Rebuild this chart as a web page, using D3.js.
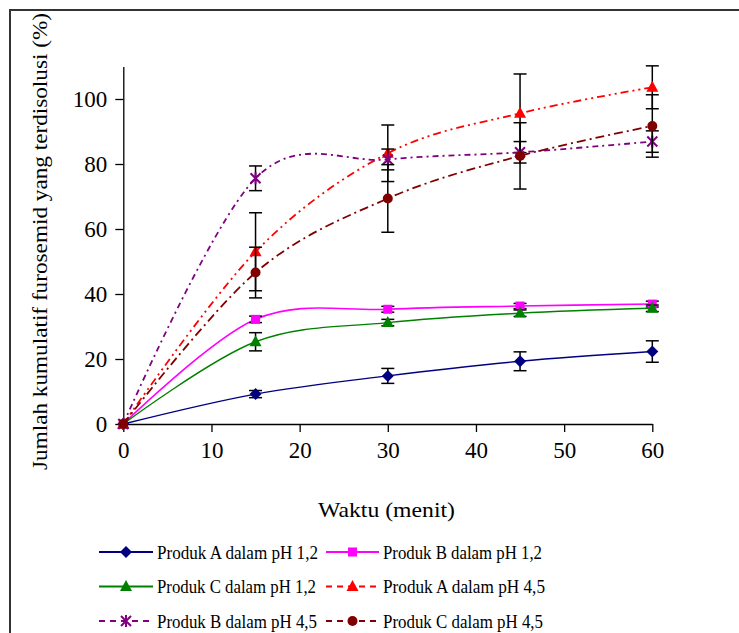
<!DOCTYPE html>
<html>
<head>
<meta charset="utf-8">
<script src="https://cdn.jsdelivr.net/npm/d3@7"></script>
<style>
  html, body { margin: 0; padding: 0; background: #fff; }
  svg { display: block; }
  svg text { font-family: "Liberation Serif", "Times New Roman", Times, "DejaVu Serif", "Noto Serif", serif !important; fill: #000; }
</style>
</head>
<body>
<svg id="chart" width="739" height="633"></svg>
<script>
// ---- Data ----
const times = [0, 15, 30, 45, 60];
const xTicks = [0, 10, 20, 30, 40, 50, 60];
const yTicks = [0, 20, 40, 60, 80, 100];

const seriesNames = [
  "Produk A dalam pH 1,2",
  "Produk B dalam pH 1,2",
  "Produk C dalam pH 1,2",
  "Produk A dalam pH 4,5",
  "Produk B dalam pH 4,5",
  "Produk C dalam pH 4,5"
];

const prodA_pH12 = [0, 9.2, 14.8, 19.3, 22.3];
const prodA_pH12_err = [0, 1.1, 2.3, 2.9, 3.3];
const prodB_pH12 = [0, 32.2, 35.3, 36.3, 36.9];
const prodB_pH12_err = [0, 1.0, 0.9, 0.8, 0.9];
const prodC_pH12 = [0, 25.3, 31.2, 34.1, 35.6];
const prodC_pH12_err = [0, 2.8, 1.0, 1.0, 1.0];
const prodA_pH45 = [0, 53.0, 83.3, 95.6, 103.6];
const prodA_pH45_err = [0, 12.0, 8.7, 12.1, 6.6];
const prodB_pH45 = [0, 75.6, 81.4, 83.6, 86.9];
const prodB_pH45_err = [0, 3.8, 3.2, 3.3, 3.3];
const prodC_pH45 = [0, 46.6, 69.4, 82.5, 91.7];
const prodC_pH45_err = [0, 7.8, 10.4, 10.2, 9.6];

const values = [prodA_pH12, prodB_pH12, prodC_pH12, prodA_pH45, prodB_pH45, prodC_pH45];
const errors = [prodA_pH12_err, prodB_pH12_err, prodC_pH12_err, prodA_pH45_err, prodB_pH45_err, prodC_pH45_err];

// ---- Styles ----
const FONT = '"Liberation Serif", "Times New Roman", Times, "DejaVu Serif", "Noto Serif", serif';
const colors = ["#000080", "#FF00FF", "#008000", "#FF0000", "#800080", "#800000"];
const markers = ["diamond", "square", "triangle", "triangle", "star", "circle"];
const dashes = [null, null, null, "8,4,2,4,2,4", "6,4,2,4", "9,4,2,4"];
const widths = [1.4, 1.6, 1.4, 1.8, 1.8, 1.8];

const svg = d3.select("#chart");

// frame
svg.append("rect")
  .attr("x", 10).attr("y", 10).attr("width", 740).attr("height", 640)
  .attr("fill", "none").attr("stroke", "#333").attr("stroke-width", 2);

const x = d3.scaleLinear().domain([0, 60]).range([123.3, 652.3]);
const y = d3.scaleLinear().domain([0, 110]).range([424, 66.5]);

// axes
const xAxisG = svg.append("g").attr("transform", `translate(0,${y(0)})`)
  .call(d3.axisBottom(x).tickValues(xTicks).tickSize(8).tickSizeOuter(0).tickPadding(10));
const yAxisG = svg.append("g").attr("transform", `translate(${x(0)},0)`)
  .call(d3.axisLeft(y).tickValues(yTicks).tickSize(8).tickSizeOuter(0).tickPadding(8));
[xAxisG, yAxisG].forEach(g => {
  g.attr("font-family", FONT).attr("font-size", 23);
  g.select(".domain").attr("stroke", "#000").attr("stroke-width", 1.3);
  g.selectAll(".tick line").attr("stroke", "#000").attr("stroke-width", 1.3);
  g.selectAll(".tick text").attr("fill", "#000");
});
xAxisG.selectAll(".tick text").attr("dy", "0.71em");
yAxisG.selectAll(".tick text").attr("dy", "0.34em");

// axis titles
svg.append("text")
  .attr("x", 318).attr("y", 517)
  .attr("font-family", FONT).attr("font-size", 22)
  .attr("textLength", 137).attr("lengthAdjust", "spacingAndGlyphs")
  .text("Waktu (menit)");
svg.append("text")
  .attr("transform", "translate(47,470) rotate(-90)")
  .attr("font-family", FONT).attr("font-size", 22)
  .attr("textLength", 457).attr("lengthAdjust", "spacingAndGlyphs")
  .text("Jumlah kumulatif furosemid yang terdisolusi (%)");

// marker drawing
function drawMarker(g, type, cx, cy, color) {
  if (type === "diamond") {
    const r = 6;
    g.append("path").attr("d", `M${cx},${cy - r}L${cx + r},${cy}L${cx},${cy + r}L${cx - r},${cy}Z`).attr("fill", color);
  } else if (type === "square") {
    const s = 9;
    g.append("rect").attr("x", cx - s / 2).attr("y", cy - s / 2).attr("width", s).attr("height", s).attr("fill", color);
  } else if (type === "triangle") {
    const h = 11, w = 12;
    g.append("path").attr("d", `M${cx},${cy - h * 0.6}L${cx + w / 2},${cy + h * 0.4}L${cx - w / 2},${cy + h * 0.4}Z`).attr("fill", color);
  } else if (type === "circle") {
    g.append("circle").attr("cx", cx).attr("cy", cy).attr("r", 5).attr("fill", color);
  } else if (type === "star") {
    const r = 5;
    g.append("path")
      .attr("d", `M${cx - r},${cy - r}L${cx + r},${cy + r}M${cx - r},${cy + r}L${cx + r},${cy - r}M${cx},${cy - r - 1}L${cx},${cy + r + 1}`)
      .attr("stroke", color).attr("stroke-width", 2).attr("fill", "none");
  }
}

const line = d3.line().x(d => x(d[0])).y(d => y(d[1])).curve(d3.curveCardinal.tension(0));

const plot = svg.append("g");
values.forEach((vals, i) => {
  const pts = times.map((t, j) => [t, vals[j]]);
  const g = plot.append("g");
  const p = g.append("path").datum(pts).attr("d", line)
    .attr("fill", "none").attr("stroke", colors[i]).attr("stroke-width", widths[i]);
  if (dashes[i]) p.attr("stroke-dasharray", dashes[i]);
  // error bars
  times.forEach((t, j) => {
    const e = errors[i][j];
    if (e <= 0) return;
    const cx = x(t), y1 = y(vals[j] + e), y2 = y(vals[j] - e);
    g.append("line").attr("x1", cx).attr("x2", cx).attr("y1", y1).attr("y2", y2)
      .attr("stroke", "#000").attr("stroke-width", 1.5);
    [y1, y2].forEach(yy => g.append("line").attr("x1", cx - 6.5).attr("x2", cx + 6.5)
      .attr("y1", yy).attr("y2", yy).attr("stroke", "#000").attr("stroke-width", 1.5));
  });
  times.forEach((t, j) => drawMarker(g, markers[i], x(t), y(vals[j]), colors[i]));
});

// legend
const legCols = [{ x1: 99, x2: 153, tx: 157 }, { x1: 326, x2: 379, tx: 383 }];
const legRows = [552, 586.5, 621];
const legLens = [161, 159, 159, 162, 160, 160];
const legDash = [null, null, null, "6,5", "6,5", "6,5"];
seriesNames.forEach((name, i) => {
  const c = legCols[i % 2], ry = legRows[Math.floor(i / 2)];
  const g = svg.append("g");
  const l = g.append("line").attr("x1", c.x1).attr("x2", c.x2).attr("y1", ry).attr("y2", ry)
    .attr("stroke", colors[i]).attr("stroke-width", 2);
  if (legDash[i]) l.attr("stroke-dasharray", legDash[i]);
  drawMarker(g, markers[i], (c.x1 + c.x2) / 2, ry, colors[i]);
  g.append("text").attr("x", c.tx).attr("y", ry + 6.5)
    .attr("font-family", FONT).attr("font-size", 19)
    .attr("textLength", legLens[i]).attr("lengthAdjust", "spacingAndGlyphs")
    .text(name);
});
</script>
</body>
</html>
